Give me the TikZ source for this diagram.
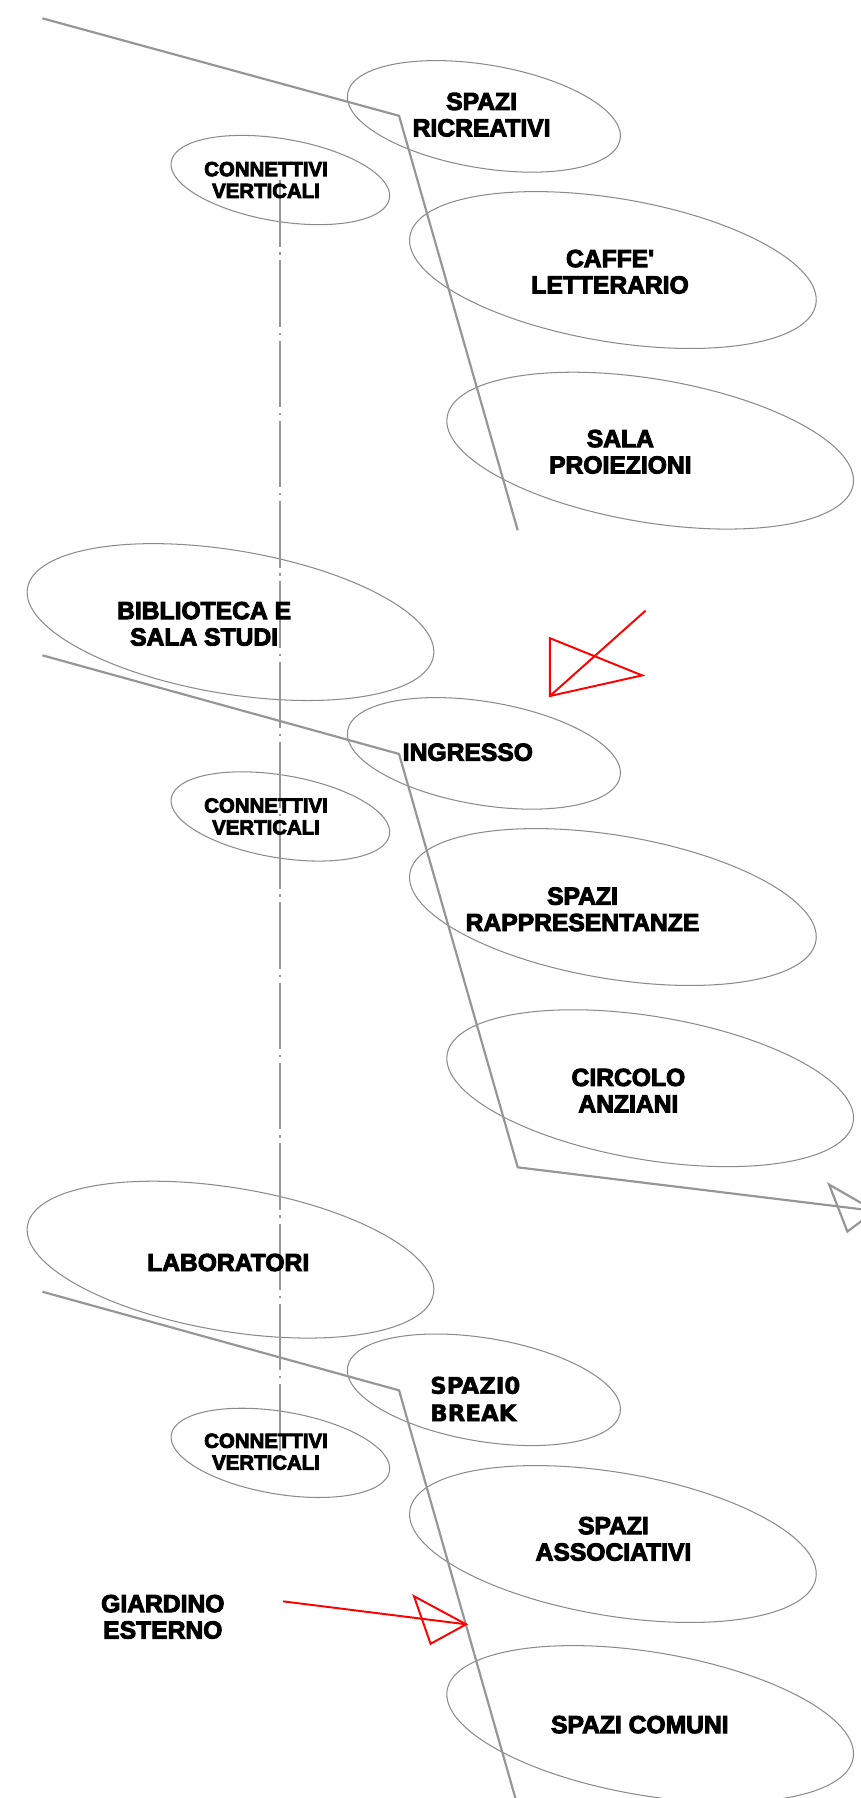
\documentclass[tikz,border=0pt]{standalone}
\usepackage{fontspec}
\setmainfont{Liberation Sans}
\newfontfamily\heavyfont{Liberation Sans Bold}[FakeBold=4]
\newfontfamily\breakfont{DejaVu Sans Bold}[FakeBold=2]
\usepackage{tikz}
\usetikzlibrary{shapes.geometric}

\definecolor{ringgray}{RGB}{138,138,138}
\definecolor{pathgray}{RGB}{150,150,150}
\definecolor{shaftgray}{RGB}{150,150,150}

\tikzset{
    room/.style={ellipse, draw=ringgray, line width=0.9pt, inner sep=0pt, rotate=-9.5},
    bigroom/.style={room, minimum width=359pt, minimum height=125pt},
    midroom/.style={room, minimum width=241pt, minimum height=90pt},
    smallroom/.style={room, minimum width=193pt, minimum height=72pt},
    roomtext/.style={align=center, inner sep=0pt,
        font=\heavyfont\fontsize{21.5}{23}\selectfont},
    conntext/.style={align=center, inner sep=0pt,
        font=\heavyfont\fontsize{17.8}{19}\selectfont},
    route/.style={draw=pathgray, line width=1.9pt, line join=miter},
    shaft/.style={draw=shaftgray, line width=1.8pt,
        dash pattern=on 58pt off 5pt on 2pt off 5pt},
    redarrow/.style={draw=red, line width=1.7pt, line join=miter},
}

\begin{document}
\begin{tikzpicture}[x=1pt, y=-1pt]

    \useasboundingbox (0,0) rectangle (750,1568);

    % ellipses
    \node [midroom] (ricreativi) at (422,101.5) {};
    \node [smallroom] (conn1) at (244.5,157) {};
    \node [bigroom] (caffe) at (534.5,235.5) {};
    \node [bigroom] (proiezioni) at (567,393) {};
    \node [bigroom] (biblioteca) at (201,542.5) {};
    \node [midroom] (ingresso) at (422,657) {};
    \node [smallroom] (conn2) at (244.5,712) {};
    \node [bigroom] (rappresentanze) at (534.5,791) {};
    \node [bigroom] (anziani) at (567,949) {};
    \node [bigroom] (laboratori) at (201,1098.5) {};
    \node [midroom] (pausa) at (422,1212) {};
    \node [smallroom] (conn3) at (244.5,1267) {};
    \node [bigroom] (associativi) at (534.5,1346.5) {};
    \node [bigroom] (comuni) at (567,1503.5) {};

    % vertical shaft
    \draw [shaft] (conn1.center) -- (conn3.center);

    % routes
    \coordinate (r1a) at (37,16);
    \coordinate (r1b) at (348,101);
    \coordinate (r1c) at (451.5,462.5);
    \draw [route] (r1a) -- (r1b) -- (r1c);

    \coordinate (r2a) at (37,571.5);
    \coordinate (r2b) at (348,657.5);
    \coordinate (r2c) at (451.5,1018);
    \coordinate (r2d) at (763,1056);
    \draw [route] (r2a) -- (r2b) -- (r2c) -- (r2d);
    \draw [route] (723,1033) -- (739,1074) -- (r2d) -- cycle;

    \coordinate (r3a) at (37,1126.5);
    \coordinate (r3b) at (348,1212.5);
    \coordinate (r3c) at (450,1570);
    \draw [route] (r3a) -- (r3b) -- (r3c);

    % red arrows
    \coordinate (in1) at (479.5,607);
    \draw [redarrow] (563,532.5) -- (in1);
    \draw [redarrow] (in1) -- (479.5,556.5) -- (560,589) -- cycle;

    \coordinate (in2) at (406.5,1416.5);
    \draw [redarrow] (247,1396.5) -- (in2);
    \draw [redarrow] (in2) -- (361,1392) -- (375.5,1433.5) -- cycle;

    % labels
    \node [roomtext] (ricreativi-t) at (420,100) {SPAZI\\RICREATIVI};
    \node [conntext] (conn1-t) at (232,157) {CONNETTIVI\\VERTICALI};
    \node [roomtext] (caffe-t) at (532,237) {CAFFE\textquotesingle\\LETTERARIO};
    \node [roomtext] (proiezioni-t) at (541,394) {SALA\\PROIEZIONI};
    \node [roomtext] (biblioteca-t) at (178,544) {BIBLIOTECA E\\SALA STUDI};
    \node [roomtext] (ingresso-t) at (408,656) {INGRESSO};
    \node [conntext] (conn2-t) at (232,712) {CONNETTIVI\\VERTICALI};
    \node [roomtext] (rappresentanze-t) at (508,793) {SPAZI\\RAPPRESENTANZE};
    \node [roomtext] (anziani-t) at (548,951) {CIRCOLO\\ANZIANI};
    \node [roomtext] (laboratori-t) at (199,1101) {LABORATORI};
    \node [align=left, inner sep=0pt, anchor=west,
        font=\breakfont\fontsize{20}{24}\selectfont]
        (pausa-t) at (375,1220) {SPAZI0\\BREAK};
    \node [conntext] (conn3-t) at (232,1266) {CONNETTIVI\\VERTICALI};
    \node [roomtext] (associativi-t) at (535,1342) {SPAZI\\ASSOCIATIVI};
    \node [roomtext] (giardino-t) at (142,1410) {GIARDINO\\ESTERNO};
    \node [roomtext] (comuni-t) at (558,1504) {SPAZI COMUNI};

\end{tikzpicture}
\end{document}
